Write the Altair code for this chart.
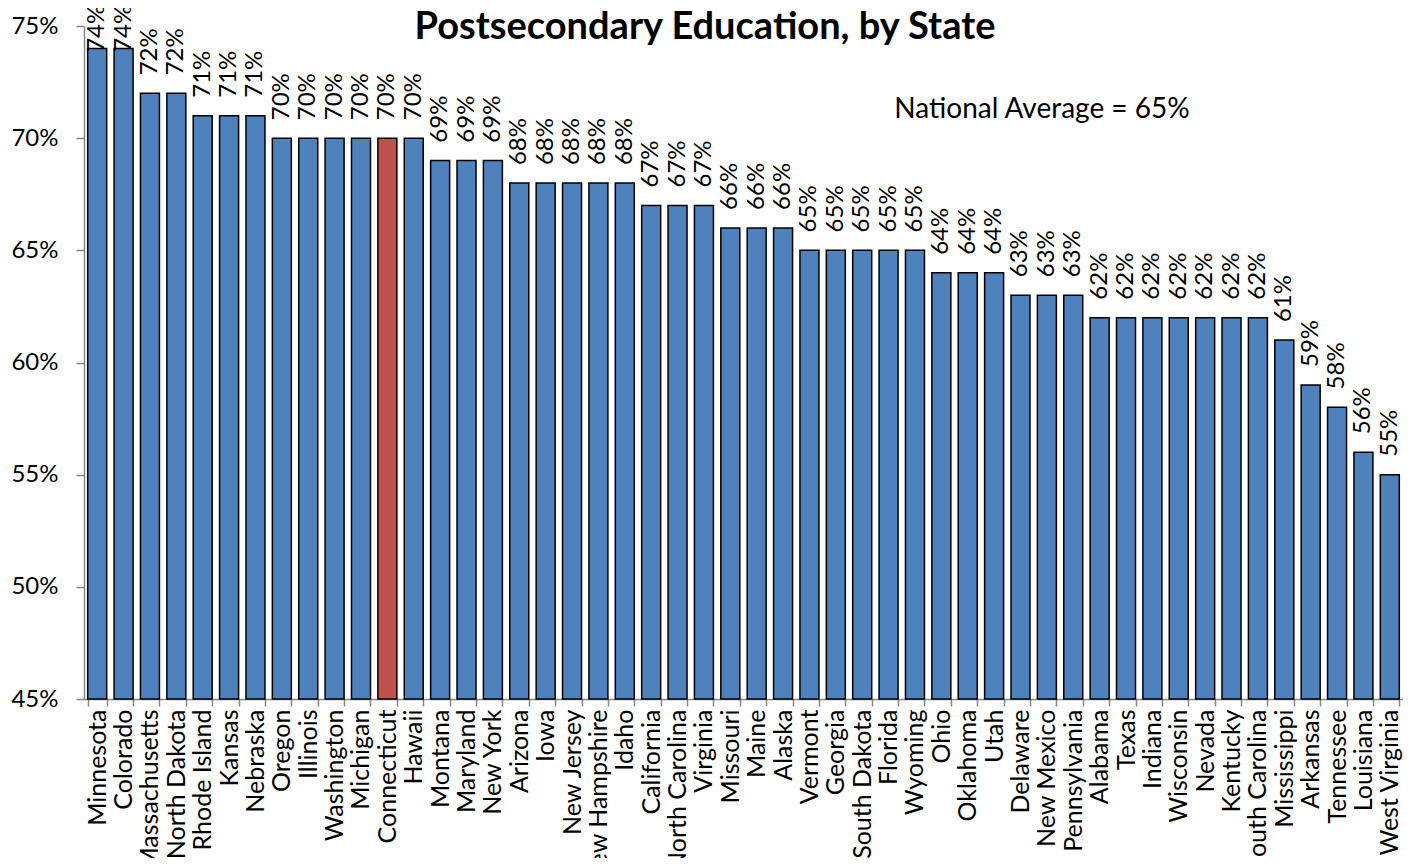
import altair as alt
import pandas as pd

states = ["Minnesota", "Colorado", "Massachusetts", "North Dakota", "Rhode Island", "Kansas",
          "Nebraska", "Oregon", "Illinois", "Washington", "Michigan", "Connecticut", "Hawaii",
          "Montana", "Maryland", "New York", "Arizona", "Iowa", "New Jersey", "New Hampshire",
          "Idaho", "California", "North Carolina", "Virginia", "Missouri", "Maine", "Alaska",
          "Vermont", "Georgia", "South Dakota", "Florida", "Wyoming", "Ohio", "Oklahoma", "Utah",
          "Delaware", "New Mexico", "Pennsylvania", "Alabama", "Texas", "Indiana", "Wisconsin",
          "Nevada", "Kentucky", "South Carolina", "Mississippi", "Arkansas", "Tennessee",
          "Louisiana", "West Virginia"]
values = [74, 74, 72, 72, 71, 71, 71, 70, 70, 70, 70, 70, 70, 69, 69, 69, 68, 68, 68, 68, 68,
          67, 67, 67, 66, 66, 66, 65, 65, 65, 65, 65, 64, 64, 64, 63, 63, 63, 62, 62, 62, 62,
          62, 62, 62, 61, 59, 58, 56, 55]
highlight = ["Connecticut"]
y_ticks = [45, 50, 55, 60, 65, 70, 75]
title_text = "Postsecondary Education, by State"
note_text = "National Average = 65%"

FONT = "Lato"
df = pd.DataFrame({"state": states, "value": values})
df["group"] = ["hl" if s in highlight else "base" for s in states]

W, H = 1319, 673

x_enc = alt.X("state:N", sort=states,
              scale=alt.Scale(paddingInner=0.28, paddingOuter=0.14),
              axis=alt.Axis(title=None, labelAngle=270, labelFontSize=25, labelFont=FONT,
                            labelColor="black", domainColor="#868686", tickColor="#868686",
                            tickBand="extent", tickSize=7, labelPadding=3, labelLimit=400,
                            labelOverlap=False, domainWidth=1.5, tickWidth=1.5))
y_scale = alt.Scale(domain=[45, 75], nice=False, zero=False)

bars = alt.Chart(df).mark_bar(stroke="black", strokeWidth=1.5).encode(
    x=x_enc,
    y=alt.Y("value:Q", scale=y_scale,
            axis=alt.Axis(title=None, values=y_ticks, labelExpr="datum.value + '%'",
                          labelFontSize=24, labelFont=FONT, labelColor="black", grid=False,
                          domainColor="#868686", tickColor="#868686", tickSize=8,
                          labelPadding=18, domainWidth=1.5, tickWidth=1.5)),
    y2=alt.datum(45),
    color=alt.Color("group:N", scale=alt.Scale(domain=["base", "hl"], range=["#4F81BD", "#C0504D"]),
                    legend=None),
)

labels = alt.Chart(df).transform_calculate(
    lab="datum.value + '%'",
    pos="min(datum.value + 0.8, 73.85)",
).mark_text(angle=270, align="left", baseline="middle", fontSize=24, font=FONT,
            color="black").encode(
    x=alt.X("state:N", sort=states),
    y=alt.Y("pos:Q", scale=y_scale),
    text="lab:N",
)

title = alt.Chart(pd.DataFrame({"t": [title_text]})).mark_text(
    fontSize=38, font=FONT, fontWeight="bold", color="black", align="center",
    baseline="alphabetic"
).encode(x=alt.value(621), y=alt.value(13), text="t:N")

note = alt.Chart(pd.DataFrame({"t": [note_text]})).mark_text(
    fontSize=28, font=FONT, color="black", align="center", baseline="alphabetic"
).encode(x=alt.value(958), y=alt.value(92), text="t:N")

chart = alt.layer(bars, labels, title, note).properties(
    width=W, height=H,
    autosize=alt.AutoSizeParams(type="none"),
    padding={"top": 18, "left": 76, "right": 0, "bottom": 159},
).configure_view(stroke=None)

chart.save("out.html", embed_options={"renderer": "svg", "actions": False})
